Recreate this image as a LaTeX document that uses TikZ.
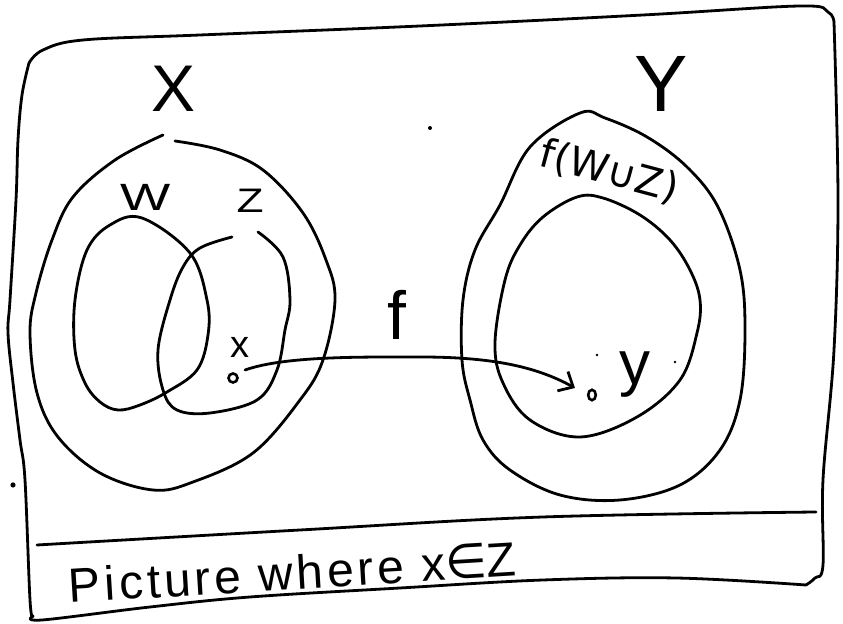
\documentclass[tikz,border=0pt]{standalone}
\usepackage{fontspec}
\setmainfont{Liberation Sans}
\newfontfamily\symfont{DejaVu Sans}
\newfontfamily\capfont[LetterSpace=8]{Liberation Sans}
\newfontfamily\capsym[LetterSpace=8]{DejaVu Sans}
\usetikzlibrary{arrows.meta,shapes.geometric}
\begin{document}
\begin{tikzpicture}[x=0.5pt,y=-0.5pt,
  pen/.style={draw=black, line width=1.4pt, line cap=round, line join=round},
  lab/.style={inner sep=0pt, outer sep=0pt, text=black, anchor=center},
  ptmark/.style={draw=black, line width=1.3pt, circle, inner sep=0pt, minimum size=4.5pt},
  arr/.style={pen, -{Straight Barb[length=6pt,width=11pt,line width=1.4pt]}}]
\useasboundingbox (0,0) rectangle (843,624);
% frame
\draw[pen] plot[smooth, tension=0.6] coordinates {(29,63) (43,50) (83,40) (200,35) (420,26) (643,15) (800,6) (828,12) (834,22)};
\draw[pen] plot[smooth, tension=0.6] coordinates {(834,22) (838,200) (834,350) (823,480) (823,565) (815,578) (806,585)};
\draw[pen] plot[smooth, tension=0.6] coordinates {(806,585) (676,578) (543,580) (400,588) (250,597) (150,607) (42,620) (33,616)};
\draw[pen] plot[smooth, tension=0.6] coordinates {(33,616) (30,600) (25,480) (20,440) (13,383) (8,333) (10,300) (16,200) (18,140) (22,95) (29,63)};
% divider
\draw[pen] plot[smooth, tension=0.6] coordinates {(37,545) (300,530) (543,517) (816,512)};
% X outer
\draw[pen] plot[smooth, tension=0.6] coordinates {(175,141) (220,150) (263,170) (303,213) (326,260) (335,300) (323,360) (300,400) (253,453) (193,482) (153,490) (100,473) (58,437) (37,393) (30,333) (36,293) (52,240) (73,197) (115,160) (163,135)};
% W
\draw[pen] plot[smooth cycle, tension=0.6] coordinates {(142,218) (190,253) (207,300) (208,335) (197,370) (167,392) (140,405) (118,410) (100,402) (85,383) (75,350) (75,300) (87,250) (110,225)};
% Z
\draw[pen] plot[smooth, tension=0.6] coordinates {(258,232) (283,257) (290,300) (285,330) (277,370) (257,400) (210,413) (177,410) (163,390) (158,350) (170,300) (183,267) (200,248) (232,237)};
% Y outer
\draw[pen] plot[smooth cycle, tension=0.6] coordinates {(580,113) (605,118) (647,137) (687,167) (718,207) (740,270) (745,330) (740,400) (720,450) (680,485) (620,500) (560,495) (510,470) (483,440) (470,400) (462,360) (463,300) (475,250) (500,205) (530,147)};
% f(W u Z)
\draw[pen] plot[smooth cycle, tension=0.6] coordinates {(577,197) (603,198) (640,215) (670,240) (690,270) (700,300) (697,333) (680,380) (637,417) (580,437) (530,420) (503,383) (495,343) (505,280) (520,245) (543,217)};
% labels
\node[lab, font=\fontsize{33}{33}\selectfont] (labX) at (174,89) {X};
\node[lab, font=\fontsize{40}{40}\selectfont] (labY) at (661,84) {Y};
\node[lab, font=\fontsize{19}{19}\selectfont] (labW) at (146,197) {\scalebox{1.4}[1]{W}};
\node[lab, font=\fontsize{17}{17}\selectfont] (labZ) at (250,201) {\scalebox{1.3}[1]{Z}};
\node[lab, font=\fontsize{34}{34}\selectfont] (labf) at (397,315) {f};
\node[lab, font=\fontsize{19}{19}\selectfont] (labx) at (240,347) {x};
\node[lab, font=\fontsize{31}{31}\selectfont] (laby) at (635,375) {y};
\node[lab, font=\symfont\fontsize{20}{20}\selectfont, rotate=-15] (labfWZ) at (609,172) {f(W∪Z)};
\node[lab, anchor=base west, rotate=3.5, font=\fontsize{24}{24}\selectfont] (caption) at (70,603) {\capfont Picture where x{\capsym ∈}Z};
% points and map
\node[ptmark] (xp) at (233,378) {};
\node[ptmark, ellipse, minimum width=3.8pt, minimum height=5.2pt] (yp) at (592,395) {};
\coordinate (as) at (245,370);
\coordinate (ae) at (575,388);
\draw[arr] (as) .. controls (285,356) and (360,357) .. (420,357) .. controls (490,357) and (535,366) .. (ae);
% stray dots
\fill (13,485) circle (1.3pt);
\fill (430,128) circle (1pt);
\fill (597,355) circle (0.7pt);
\fill (675,362) circle (0.7pt);
\end{tikzpicture}
\end{document}
